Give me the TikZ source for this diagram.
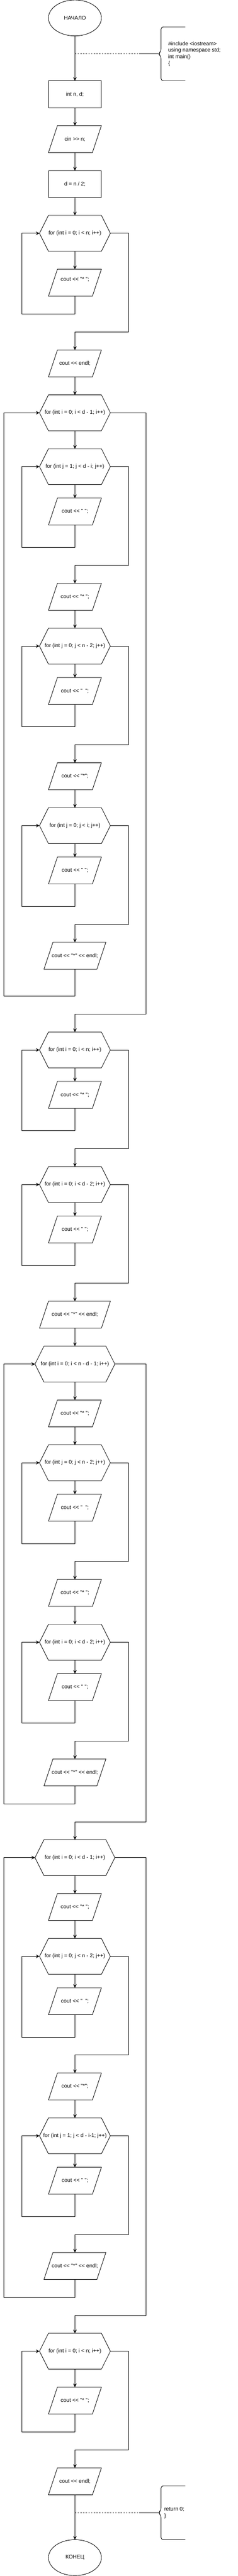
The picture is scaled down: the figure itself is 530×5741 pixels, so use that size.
\documentclass[tikz,border=0pt]{standalone}
\usepackage{fontspec}
\newfontfamily\tx{Liberation Sans}
\usetikzlibrary{shapes.geometric,arrows.meta}
\begin{document}
\begin{tikzpicture}[x=1pt,y=-1pt,line width=1pt,
  txt/.style={font=\tx\fontsize{12}{14.4}\selectfont, inner sep=0pt, outer sep=0pt, align=center},
  term/.style={txt, ellipse, draw, minimum width=118pt, minimum height=80pt},
  proc/.style={txt, rectangle, draw, minimum width=118pt, minimum height=60pt},
  io/.style={txt, rectangle, minimum width=#1, minimum height=60pt},
  io/.default=118pt,
  loopbox/.style={txt, rectangle, minimum width=#1, minimum height=80pt},
  loopbox/.default=158pt,
  flow/.style={-{Stealth[length=8pt,width=8pt,inset=3pt]}},
  note/.style={dash pattern=on 3pt off 3pt}]
\fill[white] (0,0) rectangle (530,5741);
\useasboundingbox (0,0) rectangle (530,5741);

% nodes
\node[term] (start) at (167,40) {НАЧАЛО};
\node[proc] (n1) at (167,210) {int n, d;};
\node[io] (n2) at (167,310) {cin >> n;};
\node[proc] (n3) at (167,410) {d = n / 2;};
\node[loopbox] (L1) at (167,520) {for (int i = 0; i < n; i++)};
\node[io, label={[txt,yshift=7pt]center:{cout << "*\ ";}}] (p1) at (167,630) {};
\node[io] (p2) at (167,810) {cout << endl;};
\node[loopbox] (L2) at (167,920) {for (int i = 0; i < d - 1; i++)};
\node[loopbox] (L3) at (167,1040) {for (int j = 1; j < d - i; j++)};
\node[io] (p3) at (167,1140) {cout << "\ ";};
\node[io] (p4) at (167,1330) {cout << "*\ ";};
\node[loopbox] (L4) at (167,1440) {for (int j = 0; j < n - 2; j++)};
\node[io] (p5) at (167,1540) {cout << "\ \ ";};
\node[io] (p6) at (167,1730) {cout << "*";};
\node[loopbox] (L5) at (167,1840) {for (int j = 0; j < i; j++)};
\node[io] (p7) at (167,1940) {cout << "\ ";};
\node[io=138pt] (p8) at (167,2130) {cout << "*" << endl;};
\node[loopbox] (L6) at (167,2340) {for (int i = 0; i < n; i++)};
\node[io] (p9) at (167,2440) {cout << "*\ ";};
\node[loopbox] (L7) at (167,2640) {for (int i = 0; i < d - 2; i++)};
\node[io] (p10) at (167,2740) {cout << "\ ";};
\node[io=158pt] (p11) at (167,2930) {cout << "*" << endl;};
\node[loopbox=178pt] (L8) at (167,3040) {for (int i = 0; i < n - d - 1; i++)};
\node[io] (p12) at (167,3150) {cout << "*\ ";};
\node[loopbox] (L9) at (167,3260) {for (int j = 0; j < n - 2; j++)};
\node[io] (p13) at (167,3360) {cout << "\ \ ";};
\node[io] (p14) at (167,3550) {cout << "*\ ";};
\node[loopbox] (L10) at (167,3660) {for (int i = 0; i < d - 2; i++)};
\node[io] (p15) at (167,3760) {cout << "\ ";};
\node[io=138pt] (p16) at (167,3950) {cout << "*" << endl;};
\node[loopbox=178pt] (L11) at (167,4140) {for (int i = 0; i < d - 1; i++)};
\node[io] (p17) at (167,4250) {cout << "*\ ";};
\node[loopbox] (L12) at (167,4360) {for (int j = 0; j < n - 2; j++)};
\node[io] (p18) at (167,4460) {cout << "\ \ ";};
\node[io] (p19) at (167,4650) {cout << "*";};
\node[loopbox] (L13) at (167,4760) {for (int j = 1; j < d - i-1; j++)};
\node[io] (p20) at (167,4860) {cout << "\ ";};
\node[io=138pt] (p21) at (167,5050) {cout << "*" << endl;};
\node[loopbox] (L14) at (167,5240) {for (int i = 0; i < n; i++)};
\node[io] (p22) at (167,5350) {cout << "*\ ";};
\node[io] (p23) at (167,5530) {cout << endl;};
\node[term] (stop) at (167,5700) {КОНЕЦ};

% outlines of input/output blocks (parallelograms)
\foreach \n in {n2,p1,p2,p3,p4,p5,p6,p7,p8,p9,p10,p11,p12,p13,p14,p15,p16,p17,p18,p19,p20,p21,p22,p23}
  \draw ([xshift=20pt]\n.north west) -- (\n.north east) -- ([xshift=-20pt]\n.south east) -- (\n.south west) -- cycle;
% outlines of loop blocks (hexagons)
\foreach \n in {L1,L2,L3,L4,L5,L6,L7,L8,L9,L10,L11,L12,L13,L14}
  \draw ([xshift=20pt]\n.north west) -- ([xshift=-20pt]\n.north east) -- (\n.east) -- ([xshift=-20pt]\n.south east) -- ([xshift=20pt]\n.south west) -- (\n.west) -- cycle;

% straight connectors
\foreach \a/\b in {start/n1,n1/n2,n2/n3,n3/L1,L1/p1,p2/L2,L2/L3,L3/p3,p4/L4,L4/p5,p6/L5,L5/p7,
  L6/p9,L7/p10,p11/L8,L8/p12,p12/L9,L9/p13,p14/L10,L10/p15,L11/p17,p17/L12,L12/p18,p19/L13,L13/p20,
  L14/p22,p23/stop}
  \draw[flow] (\a.south) -- (\b.north);

% loops
\draw[flow] (p1.south) |- (49,700) |- (L1.west);
\draw[flow] (L1.east) -| (286,740) -| (p2.north);
\draw[flow] (p3.south) |- (49,1220) |- (L3.west);
\draw[flow] (L3.east) -| (286,1260) -| (p4.north);
\draw[flow] (p5.south) |- (49,1620) |- (L4.west);
\draw[flow] (L4.east) -| (286,1660) -| (p6.north);
\draw[flow] (p7.south) |- (49,2020) |- (L5.west);
\draw[flow] (L5.east) -| (286,2060) -| (p8.north);
\draw[flow] (p8.south) |- (9,2220) |- (L2.west);
\draw[flow] (L2.east) -| (325,2260) -| (L6.north);
\draw[flow] (p9.south) |- (49,2520) |- (L6.west);
\draw[flow] (L6.east) -| (286,2560) -| (L7.north);
\draw[flow] (p10.south) |- (49,2820) |- (L7.west);
\draw[flow] (L7.east) -| (286,2860) -| (p11.north);
\draw[flow] (p13.south) |- (49,3440) |- (L9.west);
\draw[flow] (L9.east) -| (286,3480) -| (p14.north);
\draw[flow] (p15.south) |- (49,3840) |- (L10.west);
\draw[flow] (L10.east) -| (286,3880) -| (p16.north);
\draw[flow] (p16.south) |- (9,4020) |- (L8.west);
\draw[flow] (L8.east) -| (325,4060) -| (L11.north);
\draw[flow] (p18.south) |- (49,4540) |- (L12.west);
\draw[flow] (L12.east) -| (286,4580) -| (p19.north);
\draw[flow] (p20.south) |- (49,4940) |- (L13.west);
\draw[flow] (L13.east) -| (286,4980) -| (p21.north);
\draw[flow] (p21.south) |- (9,5120) |- (L11.west);
\draw[flow] (L11.east) -| (325,5160) -| (L14.north);
\draw[flow] (p22.south) |- (49,5420) |- (L14.west);
\draw[flow] (L14.east) -| (286,5460) -| (p23.north);

% annotations
\coordinate (a1) at (167,120);
\draw[note] (a1) -- (310,120);
\draw (310,120) -- (353,120);
\draw[rounded corners=5pt] (413,60) -- (359,60) -- (359,114) -- (353,120) -- (359,126) -- (359,180) -- (413,180);
\node[txt, anchor=west, align=left] (code1) at (375,120) {\#include <iostream>\\using namespace std;\\int main()\\\{};

\coordinate (a2) at (167,5600);
\draw[note] (a2) -- (310,5600);
\draw (310,5600) -- (353,5600);
\draw[rounded corners=5pt] (413,5540) -- (359,5540) -- (359,5594) -- (353,5600) -- (359,5606) -- (359,5660) -- (413,5660);
\node[txt, anchor=west, align=left] (code2) at (366,5600) {return 0;\\\}};
\end{tikzpicture}
\end{document}
